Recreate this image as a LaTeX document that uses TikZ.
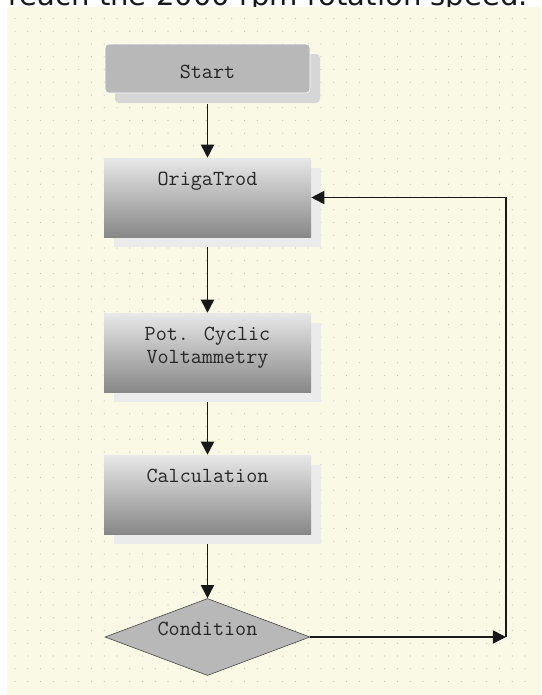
\documentclass[tikz,border=0pt]{standalone}
\usepackage{fontspec}
\usepackage{xcolor}
\usepackage{tikz}
\usetikzlibrary{arrows.meta,positioning,calc,shapes.geometric,shadows}
\newfontfamily\headfont{DejaVu Sans}
\definecolor{panel}{RGB}{250,249,230}
\definecolor{griddot}{RGB}{196,196,184}

\begin{document}
\begin{tikzpicture}[>=Latex,
  txt/.style={font=\ttfamily\fontsize{15.3}{17}\selectfont, align=center, inner sep=0pt, text=black!85},
  toptxt/.style={txt, anchor=north, yshift=-0.34cm},
  stepbox/.style={top color=black!9, bottom color=black!47, minimum width=5.175cm, minimum height=1.975cm,
    drop shadow={shadow xshift=0.24cm, shadow yshift=-0.24cm, fill=black!8, opacity=1}},
  startbox/.style={draw=white, fill=black!28, rounded corners=0.1cm, minimum width=5.125cm, minimum height=1.225cm,
    drop shadow={shadow xshift=0.25cm, shadow yshift=-0.25cm, fill=black!16, opacity=1}},
  decision/.style={diamond, draw=black!75, fill=black!28, minimum width=5.125cm, minimum height=1.925cm, inner sep=0pt},
  flow/.style={-{Triangle[length=0.33cm,width=0.33cm]}, line width=1.2pt, black!90}]
  \useasboundingbox (0,0) rectangle (13.525,-17.375);
  % caption line cut off by the screenshot
  \node[anchor=base west, inner sep=0pt, font=\headfont\fontsize{20.7}{24}\selectfont, text=black!90] (head) at (0.2,-0.13) {reach the 2000 rpm rotation speed.};
  \fill[panel] (0.175,-0.175) rectangle (13.525,-17.375);
  \foreach \i in {-7,...,33}
    \foreach \j in {-7,...,45}
      \fill[griddot] (2.6075+\i*0.31875,-2.6925-\j*0.31875) circle (0.016);
  % flow chart
  \node[startbox, label={[txt, yshift=-0.075cm]center:Start}] (start) at (5.1875,-1.7125) {};
  \node[stepbox, label={[toptxt]north:OrigaTrod}] (orig) at (5.1875,-4.9375) {};
  \node[stepbox, label={[toptxt]north:Pot. Cyclic\\Voltammetry}] (pot) at (5.1875,-8.8125) {};
  \node[stepbox, label={[toptxt]north:Calculation}] (calc) at (5.1875,-12.3625) {};
  \node[decision, label={[txt, yshift=0.19cm]center:Condition}] (cond) at (5.1875,-15.925) {};
  \coordinate (loop) at (12.65,-15.925);
  \draw[flow] ([yshift=-0.28cm]start.south) -- (orig.north);
  \draw[flow] ([yshift=-0.24cm]orig.south) -- (pot.north);
  \draw[flow] ([yshift=-0.24cm]pot.south) -- (calc.north);
  \draw[flow] ([yshift=-0.24cm]calc.south) -- (cond.north);
  \draw[flow] (cond.east) -- (loop);
  \draw[flow] (loop) |- (orig.east);
\end{tikzpicture}
\end{document}
